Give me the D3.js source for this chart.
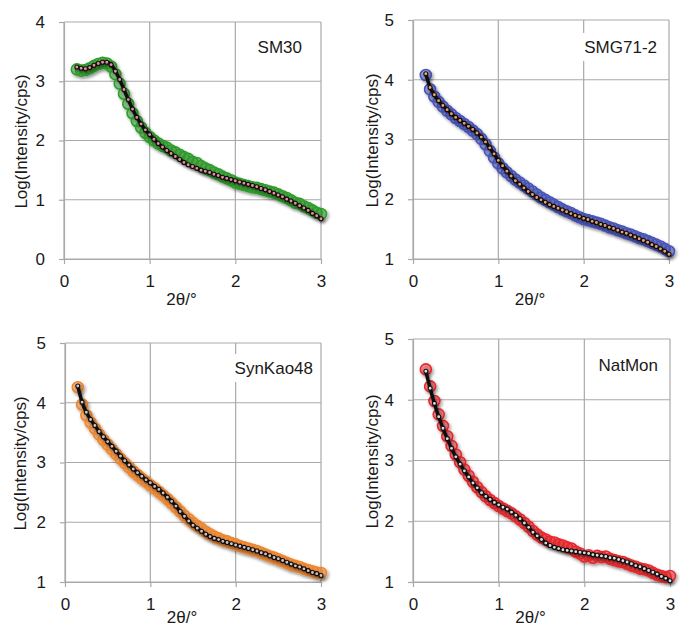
<!DOCTYPE html>
<html>
<head>
<meta charset="utf-8">
<script src="https://cdn.jsdelivr.net/npm/d3@7"></script>
<style>
  body { margin: 0; background: #fff; }
  text { font-family: "Liberation Sans", Arial, sans-serif; fill: #1a1a1a; }
</style>
</head>
<body>
<svg class="saxs" width="680" height="626"></svg>
<script>
// 2theta sampling (degrees)
const twoTheta = [
  0.15, 0.20, 0.25, 0.30, 0.35, 0.40, 0.45, 0.50, 0.55, 0.60,
  0.65, 0.70, 0.75, 0.80, 0.85, 0.90, 0.95, 1.00, 1.05, 1.10,
  1.15, 1.20, 1.25, 1.30, 1.35, 1.40, 1.45, 1.50, 1.55, 1.60,
  1.65, 1.70, 1.75, 1.80, 1.85, 1.90, 1.95, 2.00, 2.05, 2.10,
  2.15, 2.20, 2.25, 2.30, 2.35, 2.40, 2.45, 2.50, 2.55, 2.60,
  2.65, 2.70, 2.75, 2.80, 2.85, 2.90, 2.95, 3.00
];

// log(intensity/cps), measured and fitted
const sm30Data = [
  3.20, 3.18, 3.19, 3.22, 3.26, 3.29, 3.31, 3.30, 3.25, 3.12,
  2.96, 2.79, 2.62, 2.46, 2.33, 2.22, 2.13, 2.06, 2.00, 1.95,
  1.91, 1.88, 1.83, 1.80, 1.76, 1.72, 1.69, 1.64, 1.62, 1.57,
  1.53, 1.50, 1.46, 1.43, 1.39, 1.36, 1.33, 1.29, 1.27, 1.25,
  1.23, 1.21, 1.20, 1.18, 1.16, 1.14, 1.12, 1.09, 1.06, 1.03,
  0.99, 0.95, 0.93, 0.89, 0.86, 0.82, 0.78, 0.76
];
const sm30Fit = [
  3.24, 3.22, 3.21, 3.23, 3.27, 3.30, 3.32, 3.32, 3.28, 3.17,
  3.03, 2.86, 2.69, 2.53, 2.39, 2.28, 2.18, 2.10, 2.02, 1.95,
  1.89, 1.83, 1.78, 1.73, 1.68, 1.63, 1.59, 1.56, 1.53, 1.50,
  1.48, 1.46, 1.43, 1.41, 1.38, 1.36, 1.34, 1.32, 1.30, 1.28,
  1.26, 1.24, 1.22, 1.19, 1.17, 1.14, 1.11, 1.08, 1.05, 1.01,
  0.98, 0.94, 0.90, 0.86, 0.82, 0.77, 0.73, 0.68
];

const smg71Data = [
  4.08, 3.84, 3.72, 3.63, 3.55, 3.48, 3.42, 3.36, 3.31, 3.26,
  3.21, 3.15, 3.09, 3.01, 2.92, 2.81, 2.70, 2.60, 2.52, 2.45,
  2.39, 2.33, 2.28, 2.23, 2.18, 2.13, 2.08, 2.03, 1.99, 1.95,
  1.91, 1.87, 1.83, 1.80, 1.77, 1.73, 1.70, 1.67, 1.65, 1.63,
  1.61, 1.59, 1.56, 1.53, 1.51, 1.48, 1.46, 1.43, 1.41, 1.38,
  1.35, 1.33, 1.30, 1.27, 1.24, 1.21, 1.17, 1.13
];
const smg71Fit = [
  4.10, 3.87, 3.75, 3.65, 3.57, 3.50, 3.43, 3.37, 3.32, 3.27,
  3.22, 3.17, 3.11, 3.04, 2.96, 2.86, 2.76, 2.65, 2.56, 2.47,
  2.39, 2.31, 2.25, 2.19, 2.13, 2.08, 2.03, 1.99, 1.95, 1.91,
  1.88, 1.85, 1.82, 1.79, 1.76, 1.73, 1.71, 1.68, 1.66, 1.63,
  1.61, 1.58, 1.56, 1.53, 1.51, 1.48, 1.45, 1.43, 1.40, 1.37,
  1.34, 1.31, 1.28, 1.24, 1.21, 1.17, 1.13, 1.08
];

const synKaoData = [
  4.26, 3.97, 3.79, 3.67, 3.57, 3.47, 3.38, 3.30, 3.22, 3.14,
  3.06, 2.99, 2.92, 2.85, 2.79, 2.73, 2.68, 2.62, 2.57, 2.51,
  2.45, 2.39, 2.32, 2.25, 2.18, 2.11, 2.05, 1.99, 1.94, 1.89,
  1.84, 1.80, 1.76, 1.73, 1.70, 1.68, 1.65, 1.63, 1.60, 1.58,
  1.56, 1.54, 1.52, 1.49, 1.46, 1.43, 1.41, 1.38, 1.35, 1.32,
  1.29, 1.27, 1.25, 1.22, 1.20, 1.18, 1.16, 1.15
];
const synKaoFit = [
  4.28, 4.01, 3.84, 3.72, 3.62, 3.52, 3.43, 3.35, 3.27, 3.19,
  3.11, 3.03, 2.96, 2.89, 2.83, 2.77, 2.71, 2.66, 2.60, 2.55,
  2.49, 2.42, 2.35, 2.27, 2.18, 2.10, 2.02, 1.95, 1.90, 1.85,
  1.80, 1.76, 1.73, 1.71, 1.68, 1.66, 1.64, 1.62, 1.60, 1.58,
  1.56, 1.54, 1.52, 1.49, 1.47, 1.44, 1.41, 1.39, 1.36, 1.33,
  1.30, 1.27, 1.25, 1.22, 1.19, 1.16, 1.14, 1.11
];

const natMonData = [
  4.50, 4.22, 3.98, 3.76, 3.57, 3.40, 3.24, 3.10, 2.97, 2.85,
  2.75, 2.65, 2.56, 2.48, 2.41, 2.35, 2.30, 2.25, 2.21, 2.17,
  2.13, 2.08, 2.03, 1.97, 1.91, 1.84, 1.78, 1.73, 1.70, 1.66,
  1.65, 1.62, 1.60, 1.57, 1.55, 1.50, 1.47, 1.42, 1.44, 1.40,
  1.43, 1.41, 1.42, 1.38, 1.36, 1.34, 1.33, 1.30, 1.27, 1.25,
  1.22, 1.21, 1.19, 1.15, 1.12, 1.10, 1.08, 1.10
];
const natMonFit = [
  4.47, 4.19, 3.94, 3.72, 3.53, 3.36, 3.20, 3.06, 2.94, 2.83,
  2.73, 2.63, 2.55, 2.47, 2.41, 2.36, 2.31, 2.27, 2.23, 2.20,
  2.15, 2.10, 2.04, 1.97, 1.90, 1.82, 1.76, 1.70, 1.64, 1.60,
  1.57, 1.55, 1.53, 1.52, 1.51, 1.50, 1.49, 1.48, 1.47, 1.45,
  1.44, 1.43, 1.42, 1.40, 1.39, 1.37, 1.35, 1.33, 1.30, 1.27,
  1.25, 1.22, 1.19, 1.16, 1.13, 1.09, 1.06, 1.02
];

const xTicks = [0, 1, 2, 3];
const yTicksSM30 = [0, 1, 2, 3, 4];
const yTicksOther = [1, 2, 3, 4, 5];

const panels = [
  {name: "SM30", data: sm30Data, fit: sm30Fit, yTicks: yTicksSM30,
   color: "#2e9c2a", dot: "#e8909a",
   left: 64, top: 22, width: 257, height: 237, labelX: 302, labelY: 53, boxW: 60, titleX: 21},
  {name: "SMG71-2", data: smg71Data, fit: smg71Fit, yTicks: yTicksOther,
   color: "#4753b8", dot: "#f0a070",
   left: 413, top: 20, width: 256, height: 239, labelX: 657, labelY: 53, boxW: 90, titleX: 372},
  {name: "SynKao48", data: synKaoData, fit: synKaoFit, yTicks: yTicksOther,
   color: "#f0862c", dot: "#d8c0c0",
   left: 65, top: 343, width: 256, height: 239, labelX: 313, labelY: 374, boxW: 92, titleX: 20},
  {name: "NatMon", data: natMonData, fit: natMonFit, yTicks: yTicksOther,
   color: "#e8282c", dot: "#dddddd",
   left: 413, top: 339, width: 257, height: 243, labelX: 658, labelY: 371, boxW: 72, titleX: 372}
];

const svg = d3.select("svg.saxs");
const svgHeight = +svg.attr("height");
const defs = svg.append("defs");
defs.append("filter")
    .attr("id", "shadow")
    .attr("x", "-10%").attr("y", "-10%").attr("width", "130%").attr("height", "130%")
  .append("feDropShadow")
    .attr("dx", 1.5).attr("dy", 2).attr("stdDeviation", 1.5)
    .attr("flood-color", "#000").attr("flood-opacity", 0.45);

const gridColor = "#a9a9a9";

function drawPanel(p) {
  const x = d3.scaleLinear().domain([0, 3]).range([0, p.width]);
  const y = d3.scaleLinear().domain(d3.extent(p.yTicks)).range([p.height, 0]);

  const g = svg.append("g")
      .attr("transform", `translate(${p.left}, ${p.top})`);

  // grid
  g.append("g").selectAll("line")
    .data(xTicks)
    .enter().append("line")
      .attr("x1", d => x(d)).attr("x2", d => x(d))
      .attr("y1", 0).attr("y2", p.height)
      .attr("stroke", gridColor).attr("stroke-width", 1.2);
  g.append("g").selectAll("line")
    .data(p.yTicks)
    .enter().append("line")
      .attr("x1", 0).attr("x2", p.width)
      .attr("y1", d => y(d)).attr("y2", d => y(d))
      .attr("stroke", gridColor).attr("stroke-width", 1.2);

  // axes
  const xAxis = g.append("g")
      .attr("transform", `translate(0, ${p.height})`)
      .call(d3.axisBottom(x).tickValues(xTicks).tickFormat(d3.format("d"))
              .tickSize(5).tickSizeOuter(0).tickPadding(11));
  const yAxis = g.append("g")
      .call(d3.axisLeft(y).tickValues(p.yTicks).tickFormat(d3.format("d"))
              .tickSize(5).tickSizeOuter(0).tickPadding(14));
  [xAxis, yAxis].forEach(a => {
    a.attr("font-size", 17).attr("font-family", "Liberation Sans, Arial, sans-serif");
    a.select(".domain").attr("stroke", gridColor).attr("stroke-width", 1.2);
    a.selectAll(".tick line").attr("stroke", gridColor).attr("stroke-width", 1.2);
    a.selectAll(".tick text").attr("fill", "#1a1a1a");
  });

  // axis titles (kept inside the page at the bottom edge)
  g.append("text")
      .attr("x", p.width / 2 - 11)
      .attr("y", Math.min(p.height + 46, svgHeight - p.top - 3))
      .attr("text-anchor", "middle")
      .attr("font-size", 17)
      .text("2θ/°");
  g.append("text")
      .attr("transform", `translate(${p.titleX - p.left + 6}, ${p.height / 2 + 1}) rotate(-90)`)
      .attr("text-anchor", "middle")
      .attr("font-size", 17)
      .text("Log(Intensity/cps)");

  const pts = twoTheta.map((t, i) => ({t: t, v: p.data[i], f: p.fit[i]}));

  // measured data: open circles
  g.append("g")
      .attr("filter", "url(#shadow)")
    .selectAll("circle")
    .data(pts)
    .enter().append("circle")
      .attr("cx", d => x(d.t))
      .attr("cy", d => y(d.v))
      .attr("r", 5.5)
      .attr("fill", p.color).attr("fill-opacity", 0.45)
      .attr("stroke", p.color).attr("stroke-width", 1.6);

  // fitted curve: black line with small marker dots
  const line = d3.line()
      .x(d => x(d.t))
      .y(d => y(d.f))
      .curve(d3.curveMonotoneX);
  const fg = g.append("g").attr("filter", "url(#shadow)");
  fg.append("path")
      .datum(pts)
      .attr("d", line)
      .attr("fill", "none")
      .attr("stroke", "#111")
      .attr("stroke-width", 3.5);
  fg.selectAll("circle")
    .data(pts)
    .enter().append("circle")
      .attr("cx", d => x(d.t))
      .attr("cy", d => y(d.f))
      .attr("r", 2)
      .attr("fill", p.dot)
      .attr("stroke", "#111")
      .attr("stroke-width", 1.1);

  // sample label with white box
  const lab = g.append("g");
  lab.append("rect")
      .attr("x", p.labelX - p.left - p.boxW + 6)
      .attr("y", p.labelY - p.top - 20)
      .attr("width", p.boxW)
      .attr("height", 28)
      .attr("fill", "#fff");
  lab.append("text")
      .attr("x", p.labelX - p.left)
      .attr("y", p.labelY - p.top)
      .attr("text-anchor", "end")
      .attr("font-size", 17)
      .text(p.name);
}

panels.forEach(drawPanel);
</script>
</body>
</html>
